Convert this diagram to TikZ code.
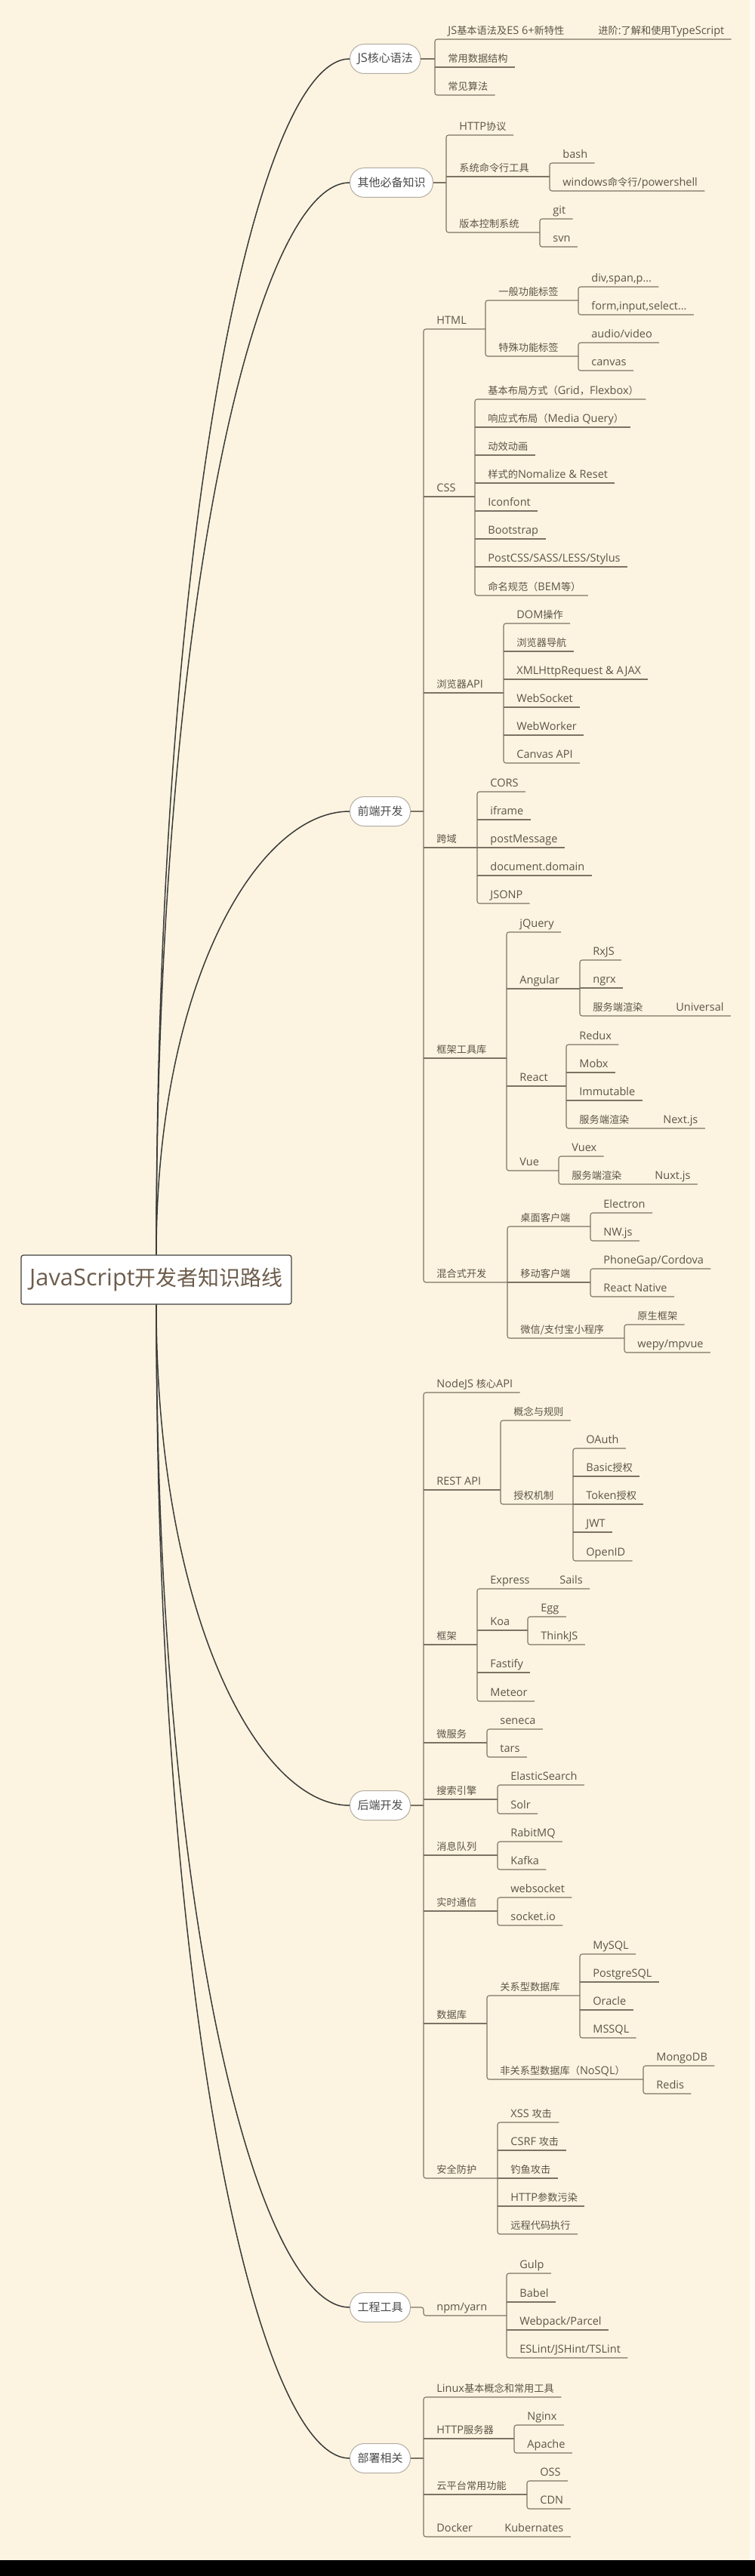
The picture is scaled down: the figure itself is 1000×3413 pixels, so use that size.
\documentclass[tikz,border=0pt]{standalone}
\usepackage{fontspec}
\setmainfont{Open Sans}[Scale=1.1]
\newfontfamily\cjk{Noto Sans CJK SC}
\newcommand\zh[1]{{\cjk #1}}
\usetikzlibrary{calc}
\definecolor{bgc}{HTML}{FCF4E0}
\definecolor{lnc}{HTML}{7D7264}
\definecolor{txc}{HTML}{5D5449}
\definecolor{brt}{HTML}{4A4A4A}
\definecolor{brd}{HTML}{B3ACA2}
\definecolor{rtc}{HTML}{6D5C4B}
\definecolor{cvc}{HTML}{3A3A3A}
\tikzset{
 lbl/.style={anchor=base west, inner sep=0pt, text=txc, font=\fontsize{6.6}{8}\selectfont},
 ln/.style={draw=lnc, line width=0.55pt},
 brn/.style={draw=brd, fill=white, rounded corners=9.5pt, minimum height=19.5pt, inner xsep=5pt, inner ysep=0pt, text=brt, font=\fontsize{7.5}{9}\selectfont, anchor=west, line width=0.5pt},
 rootn/.style={draw=black!75, fill=white, rounded corners=1.5pt, minimum width=179pt, minimum height=32.5pt, text=rtc, font=\fontsize{14}{16}\selectfont, line width=0.6pt},
 cv/.style={draw=cvc, line width=0.75pt},
}
\newcommand\Lf[4]{\node[lbl] (#1) at ({#2+17},{#3-6.5}) {#4}; \coordinate (#1-w) at (#2,#3); \coordinate (#1-e) at ($(#1.base east)+(9,6.5)$);}
\newcommand\Pn[5]{\node[lbl] (#1) at ({#2+17},{#3-6.5}) {#5}; \coordinate (#1-w) at (#2,#3); \coordinate (#1-e) at (#4,#3);}
\newcommand\Lfi[6]{\node[lbl] (#1) at ({#2+17},{#3-6.5}) {#4}; \node[lbl] (#1x) at ({#5},{#3-6.5}) {#6}; \coordinate (#1-w) at (#2,#3); \coordinate (#1-e) at ($(#1x.base east)+(9,6.5)$);}
\newcommand\Brk[2]{\draw[ln,rounded corners=1.5pt] (#1-e) -- (#1-w) -- (#2-w) -- (#2-e);}
\newcommand\Ul[1]{\draw[ln] (#1-w) -- (#1-e);}
\newcommand\Cv[2]{\draw[cv] (#1) .. controls ($(#1)!0.61!(#1 |- #2.west)$) and ($(#2.west -| #1)!0.52!(#2.west)$) .. (#2.west);}
\begin{document}
\begin{tikzpicture}[x=0.5pt,y=-0.5pt]
\useasboundingbox (0,0) rectangle (1000,3413);
\fill[bgc] (0,0) rectangle (1000,3413);
\fill[bgc!40!white] (993,0) rectangle (1000,3392);
\fill[black] (0,3392) rectangle (1000,3413);

% root and branches
\node[rootn] (root) at (207,1695.5) {JavaScript\zh{开发者知识路线}};
\node[brn] (js) at (463,78) {JS\zh{核心语法}};
\node[brn] (oth) at (463,242) {\zh{其他必备知识}};
\node[brn] (fe) at (463,1075) {\zh{前端开发}};
\node[brn] (be) at (463,2392) {\zh{后端开发}};
\node[brn] (eng) at (463,3057) {\zh{工程工具}};
\node[brn] (dep) at (463,3257) {\zh{部署相关}};
\Cv{root.north}{js}
\Cv{root.north}{oth}
\Cv{root.north}{fe}
\Cv{root.south}{be}
\Cv{root.south}{eng}
\Cv{root.south}{dep}

% JS core
\Lfi{a1}{576}{52}{JS\zh{基本语法及}ES 6+\zh{新特性}}{792}{\zh{进阶}:\zh{了解和使用}TypeScript}
\Lf{a2}{576}{89}{\zh{常用数据结构}}
\Lf{a3}{576}{126}{\zh{常见算法}}
\Brk{a1}{a3} \Ul{a2}
\draw[ln] (js.east) -- (js.east -| a1-w);

% other
\Lf{b1}{591}{179}{HTTP\zh{协议}}
\Pn{b2}{591}{234}{728}{\zh{系统命令行工具}}
\Pn{b3}{591}{308}{715}{\zh{版本控制系统}}
\Lf{b21}{728}{216}{bash}
\Lf{b22}{728}{253}{windows\zh{命令行}/powershell}
\Lf{b31}{715}{290}{git}
\Lf{b32}{715}{327}{svn}
\Brk{b1}{b3} \Ul{b2} \Brk{b21}{b22} \Brk{b31}{b32}
\draw[ln] (oth.east) -- (oth.east -| b1-w);

% front end
\Pn{c1}{561}{436}{643}{HTML}
\Pn{c11}{643}{398}{766}{\zh{一般功能标签}}
\Lf{c111}{766}{380}{div,span,p…}
\Lf{c112}{766}{417}{form,input,select…}
\Pn{c12}{643}{472}{766}{\zh{特殊功能标签}}
\Lf{c121}{766}{454}{audio/video}
\Lf{c122}{766}{491}{canvas}
\Brk{c11}{c12} \Brk{c111}{c112} \Brk{c121}{c122}

\Pn{c2}{561}{658}{629}{CSS}
\Lf{c21}{629}{529}{\zh{基本布局方式（}Grid\zh{，}Flexbox\zh{）}}
\Lf{c22}{629}{566}{\zh{响应式布局（}Media Query\zh{）}}
\Lf{c23}{629}{603}{\zh{动效动画}}
\Lf{c24}{629}{640}{\zh{样式的}Nomalize \& Reset}
\Lf{c25}{629}{677}{Iconfont}
\Lf{c26}{629}{714}{Bootstrap}
\Lf{c27}{629}{751}{PostCSS/SASS/LESS/Stylus}
\Lf{c28}{629}{789}{\zh{命名规范（}BEM\zh{等）}}
\Brk{c21}{c28} \Ul{c22} \Ul{c23} \Ul{c24} \Ul{c25} \Ul{c26} \Ul{c27}

\Pn{c3}{561}{918}{667}{\zh{浏览器}API}
\Lf{c31}{667}{826}{DOM\zh{操作}}
\Lf{c32}{667}{863}{\zh{浏览器导航}}
\Lf{c33}{667}{900}{XMLHttpRequest \& AJAX}
\Lf{c34}{667}{937}{WebSocket}
\Lf{c35}{667}{974}{WebWorker}
\Lf{c36}{667}{1011}{Canvas API}
\Brk{c31}{c36} \Ul{c32} \Ul{c33} \Ul{c34} \Ul{c35}

\Pn{c4}{561}{1123}{632}{\zh{跨域}}
\Lf{c41}{632}{1049}{CORS}
\Lf{c42}{632}{1086}{iframe}
\Lf{c43}{632}{1123}{postMessage}
\Lf{c44}{632}{1160}{document.domain}
\Lf{c45}{632}{1197}{JSONP}
\Brk{c41}{c45} \Ul{c42} \Ul{c43} \Ul{c44}

\Pn{c5}{561}{1402}{671}{\zh{框架工具库}}
\Lf{c51}{671}{1235}{jQuery}
\Pn{c52}{671}{1310}{768}{Angular}
\Lf{c521}{768}{1272}{RxJS}
\Lf{c522}{768}{1309}{ngrx}
\Lfi{c523}{768}{1346}{\zh{服务端渲染}}{895}{Universal}
\Pn{c53}{671}{1439}{750}{React}
\Lf{c531}{750}{1384}{Redux}
\Lf{c532}{750}{1421}{Mobx}
\Lf{c533}{750}{1458}{Immutable}
\Lfi{c534}{750}{1495}{\zh{服务端渲染}}{878}{Next.js}
\Pn{c54}{671}{1551}{740}{Vue}
\Lf{c541}{740}{1532}{Vuex}
\Lfi{c542}{740}{1569}{\zh{服务端渲染}}{867}{Nuxt.js}
\Brk{c51}{c54} \Ul{c52} \Ul{c53}
\Brk{c521}{c523} \Ul{c522}
\Brk{c531}{c534} \Ul{c532} \Ul{c533}
\Brk{c541}{c542}

\Pn{c6}{561}{1699}{672}{\zh{混合式开发}}
\Pn{c61}{672}{1625}{782}{\zh{桌面客户端}}
\Lf{c611}{782}{1607}{Electron}
\Lf{c612}{782}{1644}{NW.js}
\Pn{c62}{672}{1699}{782}{\zh{移动客户端}}
\Lf{c621}{782}{1681}{PhoneGap/Cordova}
\Lf{c622}{782}{1718}{React Native}
\Pn{c63}{672}{1773}{827}{\zh{微信/支付宝小程序}}
\Lf{c631}{827}{1755}{\zh{原生框架}}
\Lf{c632}{827}{1792}{wepy/mpvue}
\Brk{c61}{c63} \Ul{c62} \Brk{c611}{c612} \Brk{c621}{c622} \Brk{c631}{c632}
\Brk{c1}{c6} \Ul{c2} \Ul{c3} \Ul{c4} \Ul{c5}
\draw[ln] (fe.east) -- (fe.east -| c1-w);

% back end
\Lf{d1}{561}{1845}{NodeJS \zh{核心}API}
\Pn{d2}{561}{1974}{663}{REST API}
\Lf{d21}{663}{1882}{\zh{概念与规则}}
\Pn{d22}{663}{1993}{759}{\zh{授权机制}}
\Lf{d221}{759}{1919}{OAuth}
\Lf{d222}{759}{1956}{Basic\zh{授权}}
\Lf{d223}{759}{1993}{Token\zh{授权}}
\Lf{d224}{759}{2030}{JWT}
\Lf{d225}{759}{2068}{OpenID}
\Brk{d21}{d22} \Brk{d221}{d225} \Ul{d222} \Ul{d223} \Ul{d224}
\Pn{d3}{561}{2179}{632}{\zh{框架}}
\Lfi{d31}{632}{2105}{Express}{741}{Sails}
\Pn{d32}{632}{2160}{699}{Koa}
\Lf{d321}{699}{2142}{Egg}
\Lf{d322}{699}{2179}{ThinkJS}
\Lf{d33}{632}{2216}{Fastify}
\Lf{d34}{632}{2254}{Meteor}
\Brk{d31}{d34} \Ul{d32} \Ul{d33} \Brk{d321}{d322}
\Pn{d4}{561}{2309}{645}{\zh{微服务}}
\Lf{d41}{645}{2291}{seneca}
\Lf{d42}{645}{2328}{tars}
\Brk{d41}{d42}
\Pn{d5}{561}{2384}{659}{\zh{搜索引擎}}
\Lf{d51}{659}{2365}{ElasticSearch}
\Lf{d52}{659}{2403}{Solr}
\Brk{d51}{d52}
\Pn{d6}{561}{2458}{659}{\zh{消息队列}}
\Lf{d61}{659}{2440}{RabitMQ}
\Lf{d62}{659}{2477}{Kafka}
\Brk{d61}{d62}
\Pn{d7}{561}{2532}{659}{\zh{实时通信}}
\Lf{d71}{659}{2514}{websocket}
\Lf{d72}{659}{2551}{socket.io}
\Brk{d71}{d72}
\Pn{d8}{561}{2681}{645}{\zh{数据库}}
\Pn{d81}{645}{2644}{768}{\zh{关系型数据库}}
\Lf{d811}{768}{2589}{MySQL}
\Lf{d812}{768}{2626}{PostgreSQL}
\Lf{d813}{768}{2663}{Oracle}
\Lf{d814}{768}{2700}{MSSQL}
\Pn{d82}{645}{2755}{852}{\zh{非关系型数据库（}NoSQL\zh{）}}
\Lf{d821}{852}{2737}{MongoDB}
\Lf{d822}{852}{2774}{Redis}
\Brk{d81}{d82} \Brk{d811}{d814} \Ul{d812} \Ul{d813} \Brk{d821}{d822}
\Pn{d9}{561}{2886}{659}{\zh{安全防护}}
\Lf{d91}{659}{2812}{XSS \zh{攻击}}
\Lf{d92}{659}{2849}{CSRF \zh{攻击}}
\Lf{d93}{659}{2886}{\zh{钓鱼攻击}}
\Lf{d94}{659}{2923}{HTTP\zh{参数污染}}
\Lf{d95}{659}{2960}{\zh{远程代码执行}}
\Brk{d91}{d95} \Ul{d92} \Ul{d93} \Ul{d94}
\Brk{d1}{d9} \Ul{d2} \Ul{d3} \Ul{d4} \Ul{d5} \Ul{d6} \Ul{d7} \Ul{d8}
\draw[ln] (be.east) -- (be.east -| d1-w);

% engineering
\Pn{e1}{561}{3068}{671}{npm/yarn}
\Lf{e11}{671}{3012}{Gulp}
\Lf{e12}{671}{3050}{Babel}
\Lf{e13}{671}{3087}{Webpack/Parcel}
\Lf{e14}{671}{3124}{ESLint/JSHint/TSLint}
\Brk{e11}{e14} \Ul{e12} \Ul{e13}
\draw[ln,rounded corners=1.5pt] (eng.east) -- (eng.east -| e1-w) -- (e1-w) -- (e1-e);

% deploy
\Lf{f1}{561}{3176}{Linux\zh{基本概念和常用工具}}
\Pn{f2}{561}{3231}{681}{HTTP\zh{服务器}}
\Lf{f21}{681}{3213}{Nginx}
\Lf{f22}{681}{3250}{Apache}
\Pn{f3}{561}{3305}{698}{\zh{云平台常用功能}}
\Lf{f31}{698}{3287}{OSS}
\Lf{f32}{698}{3324}{CDN}
\Lfi{f4}{561}{3361}{Docker}{668}{Kubernates}
\Brk{f1}{f4} \Ul{f2} \Ul{f3} \Brk{f21}{f22} \Brk{f31}{f32}
\draw[ln] (dep.east) -- (dep.east -| f1-w);
\end{tikzpicture}
\end{document}
